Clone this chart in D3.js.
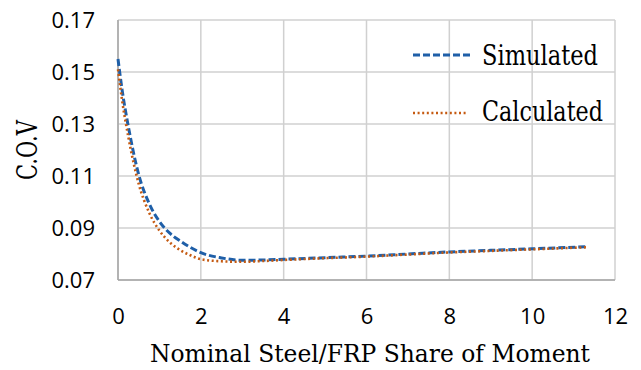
<!DOCTYPE html>
<html><head><meta charset="utf-8">
<script src="https://cdn.jsdelivr.net/npm/d3@7"></script>
<style>body{margin:0;background:#fff}</style>
</head><body>
<svg id="c" width="641" height="370"></svg>
<script>
const xVals = [0, 0.1, 0.25, 0.5, 0.75, 1, 1.25, 1.5, 1.75, 2, 2.5, 3, 3.5, 4, 5, 6, 7, 8, 9, 10, 11.33];
const simulated = [0.155, 0.143, 0.129, 0.1105, 0.0995, 0.0925, 0.088, 0.085, 0.0825, 0.0805, 0.0785, 0.0776, 0.0777, 0.078, 0.0786, 0.0792, 0.080, 0.0808, 0.0814, 0.082, 0.0828];
const calculated = [0.151, 0.139, 0.125, 0.107, 0.096, 0.089, 0.0845, 0.0815, 0.0795, 0.078, 0.0772, 0.077, 0.0773, 0.0777, 0.0784, 0.079, 0.0798, 0.0806, 0.0812, 0.0818, 0.0826];
const xTicks = [0, 2, 4, 6, 8, 10, 12];
const yTicks = [0.07, 0.09, 0.11, 0.13, 0.15, 0.17];
const seriesNames = ["Simulated", "Calculated"];
const colors = ["#1f5fa8", "#c55a11"];

const svg = d3.select("#c");
const x = d3.scaleLinear().domain([0, 12]).range([118, 615]);
const y = d3.scaleLinear().domain([0.07, 0.17]).range([280, 20]);
const serif = "'DejaVu Serif', serif";

// grid
svg.append("g").selectAll("line").data(xTicks).join("line")
  .attr("x1", d => x(d)).attr("x2", d => x(d)).attr("y1", y(0.07)).attr("y2", y(0.17))
  .attr("stroke", "#d0d0d0").attr("stroke-width", 1.5);
svg.append("g").selectAll("line").data(yTicks).join("line")
  .attr("y1", d => y(d)).attr("y2", d => y(d)).attr("x1", x(0)).attr("x2", x(12))
  .attr("stroke", "#d0d0d0").attr("stroke-width", 1.5);
// axis lines
svg.append("line").attr("x1", x(0)).attr("x2", x(0)).attr("y1", y(0.07)).attr("y2", y(0.17)).attr("stroke", "#a6a6a6").attr("stroke-width", 1.5);
svg.append("line").attr("x1", x(0)).attr("x2", x(12)).attr("y1", y(0.07)).attr("y2", y(0.07)).attr("stroke", "#a6a6a6").attr("stroke-width", 1.5);

// tick labels via axes
const xAxis = svg.append("g").attr("transform", `translate(0,${y(0.07)})`)
  .call(d3.axisBottom(x).tickValues(xTicks).tickFormat(d3.format("d")).tickSize(0).tickPadding(28));
const yAxis = svg.append("g").attr("transform", `translate(${x(0)},0)`)
  .call(d3.axisLeft(y).tickValues(yTicks).tickFormat(d3.format(".2f")).tickSize(0).tickPadding(23));
[xAxis, yAxis].forEach(a => {
  a.select(".domain").remove();
  a.selectAll("text").attr("font-family", "'Open Sans', 'Liberation Sans', sans-serif").attr("font-size", 22).attr("fill", "#000");
});

const line = d3.line().x(d => x(d[0])).y(d => y(d[1])).curve(d3.curveMonotoneX);
const series = [simulated, calculated];
const dash = ["7,3", "2,2.6"];
const widths = [3, 2.6];
series.forEach((s, i) => {
  svg.append("path").datum(xVals.map((v, j) => [v, s[j]]))
    .attr("d", line).attr("fill", "none").attr("stroke", colors[i])
    .attr("stroke-width", widths[i]).attr("stroke-dasharray", dash[i]);
});

// legend
const legY = [55, 113];
const legX2 = [473, 468];
const legBase = [65, 121];
const legLen = [116, 121];
seriesNames.forEach((n, i) => {
  svg.append("line").attr("x1", 413).attr("x2", legX2[i]).attr("y1", legY[i]).attr("y2", legY[i])
    .attr("stroke", colors[i]).attr("stroke-width", widths[i]).attr("stroke-dasharray", dash[i]);
  svg.append("text").attr("x", 482).attr("y", legBase[i]).text(n)
    .attr("font-family", serif).attr("font-size", 27).attr("fill", "#000")
    .attr("textLength", legLen[i]).attr("lengthAdjust", "spacingAndGlyphs");
});

// axis titles
svg.append("text").attr("x", 150).attr("y", 362)
  .attr("font-family", serif).attr("font-size", 25).text("Nominal Steel/FRP Share of Moment")
  .attr("textLength", 440).attr("lengthAdjust", "spacingAndGlyphs");
svg.append("text").attr("transform", "translate(37,180) rotate(-90)")
  .attr("font-family", serif).attr("font-size", 27).text("C.O.V")
  .attr("textLength", 60).attr("lengthAdjust", "spacingAndGlyphs");
</script>
</body></html>
